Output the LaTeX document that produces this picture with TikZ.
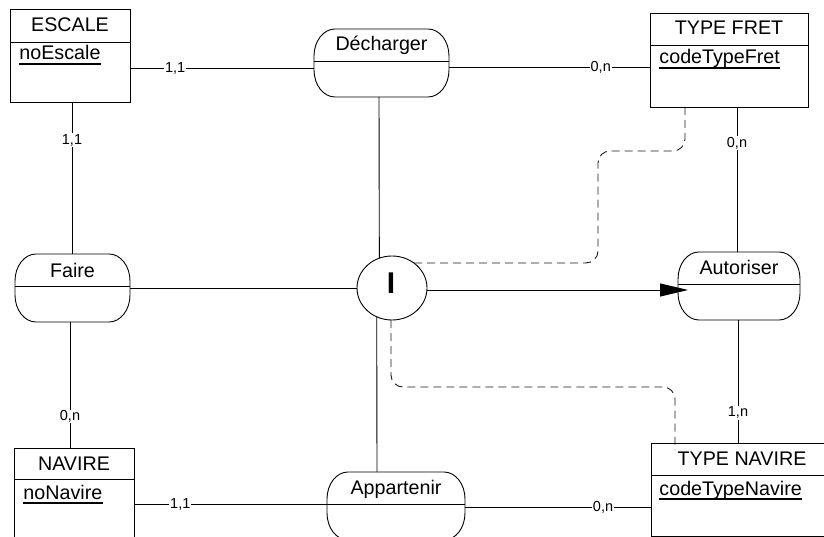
\documentclass[tikz,border=0pt]{standalone}
\usepackage{fontspec}
\setmainfont{Liberation Sans}
\usetikzlibrary{shapes.geometric,arrows.meta}
\newcommand\ershape[1]{%
  \draw ([xshift=21pt]#1.north west) -- ([xshift=-21pt]#1.north east)
    arc[start angle=90,end angle=0,x radius=21pt,y radius=27pt]
    -- ([yshift=27pt]#1.south east)
    arc[start angle=0,end angle=-90,x radius=21pt,y radius=27pt]
    -- ([xshift=21pt]#1.south west)
    arc[start angle=270,end angle=180,x radius=21pt,y radius=27pt]
    -- ([yshift=-27pt]#1.north west)
    arc[start angle=180,end angle=90,x radius=21pt,y radius=27pt] -- cycle;}
\begin{document}
\begin{tikzpicture}[x=1pt,y=-1pt,line width=0.9pt,
  entbox/.style={draw, rectangle, inner sep=0pt, outer sep=0pt, anchor=north west},
  assocbox/.style={rectangle, inner sep=0pt, outer sep=0pt, anchor=north west, minimum height=68pt},
  titletext/.style={anchor=base, inner sep=0pt, font=\fontsize{19.7}{22}\selectfont},
  attrtext/.style={anchor=base west, inner sep=0pt, font=\fontsize{19.7}{22}\selectfont},
  ulline/.style={line width=1.8pt},
  cardlbl/.style={fill=white, inner sep=1pt, font=\fontsize{14.5}{16}\selectfont},
  dashlink/.style={draw=black!90, dash pattern=on 8pt off 5pt, rounded corners=12pt},
  arrowlink/.style={-{Triangle[length=28pt,width=13pt]}}
]
\useasboundingbox (0,0) rectangle (824,537);
\clip (0,0) rectangle (824,537);

% entities
\node[entbox, minimum width=120pt, minimum height=93pt] (escale) at (10,9) {};
\node[entbox, minimum width=158pt, minimum height=94pt] (typefret) at (650,13) {};
\node[entbox, minimum width=120pt, minimum height=93pt] (navire) at (14,448) {};
\node[entbox, minimum width=182pt, minimum height=93pt] (typenavire) at (651,443) {};

\draw ([yshift=-33pt]escale.north west) -- ([yshift=-33pt]escale.north east);
\draw ([yshift=-32pt]typefret.north west) -- ([yshift=-32pt]typefret.north east);
\draw ([yshift=-31pt]navire.north west) -- ([yshift=-31pt]navire.north east);
\draw ([yshift=-32pt]typenavire.north west) -- ([yshift=-32pt]typenavire.north east);

\node[titletext] (escaleT) at ([yshift=-23pt]escale.north) {ESCALE};
\node[titletext] (typefretT) at ([yshift=-22pt]typefret.north) {TYPE FRET};
\node[titletext] (navireT) at ([yshift=-22pt]navire.north) {NAVIRE};
\node[titletext] (typenavireT) at ([yshift=-22pt]typenavire.north) {TYPE NAVIRE};

\node[attrtext] (escaleA) at ([xshift=9pt,yshift=-51pt]escale.north west) {noEscale};
\node[attrtext] (typefretA) at ([xshift=9pt,yshift=-51pt]typefret.north west) {codeTypeFret};
\node[attrtext] (navireA) at ([xshift=9pt,yshift=-51pt]navire.north west) {noNavire};
\node[attrtext] (typenavireA) at ([xshift=8pt,yshift=-52pt]typenavire.north west) {codeTypeNavire};
\foreach \a in {escaleA,typefretA,navireA,typenavireA}
  \draw[ulline] ([yshift=-4pt]\a.base west) -- ([yshift=-4pt]\a.base east);

% associations
\node[assocbox, minimum width=135pt] (dech) at (314,29) {};
\node[assocbox, minimum width=115pt] (faire) at (15,254) {};
\node[assocbox, minimum width=122pt] (autor) at (678,252) {};
\node[assocbox, minimum width=138pt] (appart) at (327,472) {};
\foreach \a in {dech,faire,autor,appart}{
  \ershape{\a}
  \draw ([yshift=-32pt]\a.north west) -- ([yshift=-32pt]\a.north east);}

\node[titletext] (dechT) at ([yshift=-22pt]dech.north) {Décharger};
\node[titletext] (faireT) at ([yshift=-23pt]faire.north) {Faire};
\node[titletext] (autorT) at ([yshift=-22pt]autor.north) {Autoriser};
\node[titletext] (appartT) at ([yshift=-22pt]appart.north) {Appartenir};

% constraint circle
\node[draw, ellipse, minimum width=70pt, minimum height=64pt, inner sep=0pt, outer sep=0pt] (cI) at (392,288) {};
\node[anchor=base, inner sep=0pt, font=\fontsize{30}{32}\selectfont\bfseries] (cIT) at (391,293) {I};

% connectors
\draw (escale.east |- 0,68) -- node[cardlbl, pos=0.245] (l1) {1,1} (dech.west |- 0,68);
\draw (dech.east |- 0,67) -- node[cardlbl, pos=0.755] (l2) {0,n} (typefret.west |- 0,67);
\draw (escale.south -| 72,0) -- node[cardlbl, pos=0.25] (l3) {1,1} (faire.north -| 72,0);
\draw (typefret.south -| 737,0) -- node[cardlbl, pos=0.25] (l4) {0,n} (autor.north -| 737,0);
\draw (faire.south -| 70,0) -- node[cardlbl, pos=0.75] (l5) {0,n} (navire.north -| 70,0);
\draw (autor.south -| 738,0) -- node[cardlbl, pos=0.755] (l6) {1,n} (typenavire.north -| 738,0);
\draw (navire.east |- 0,504) -- node[cardlbl, pos=0.24] (l7) {1,1} (appart.west |- 0,504);
\draw (appart.east |- 0,507) -- node[cardlbl, pos=0.742] (l8) {0,n} (typenavire.west |- 0,507);

\draw (dech.south -| 379,0) -- (cI.113.6);
\draw (cI.242.6) -- (appart.north -| 377,0);
\draw (faire.east) -- (cI.west);
\draw[arrowlink] (cI.east |- 0,290) -- ([xshift=10pt]autor.west |- 0,290);

% dashed links
\draw[dashlink] (typefret.south -| 685,0) |- (598,151) |- (cI.49);
\draw[dashlink] (cI.south -| 391,0) |- (675,387) -- (675,450);
\end{tikzpicture}
\end{document}
